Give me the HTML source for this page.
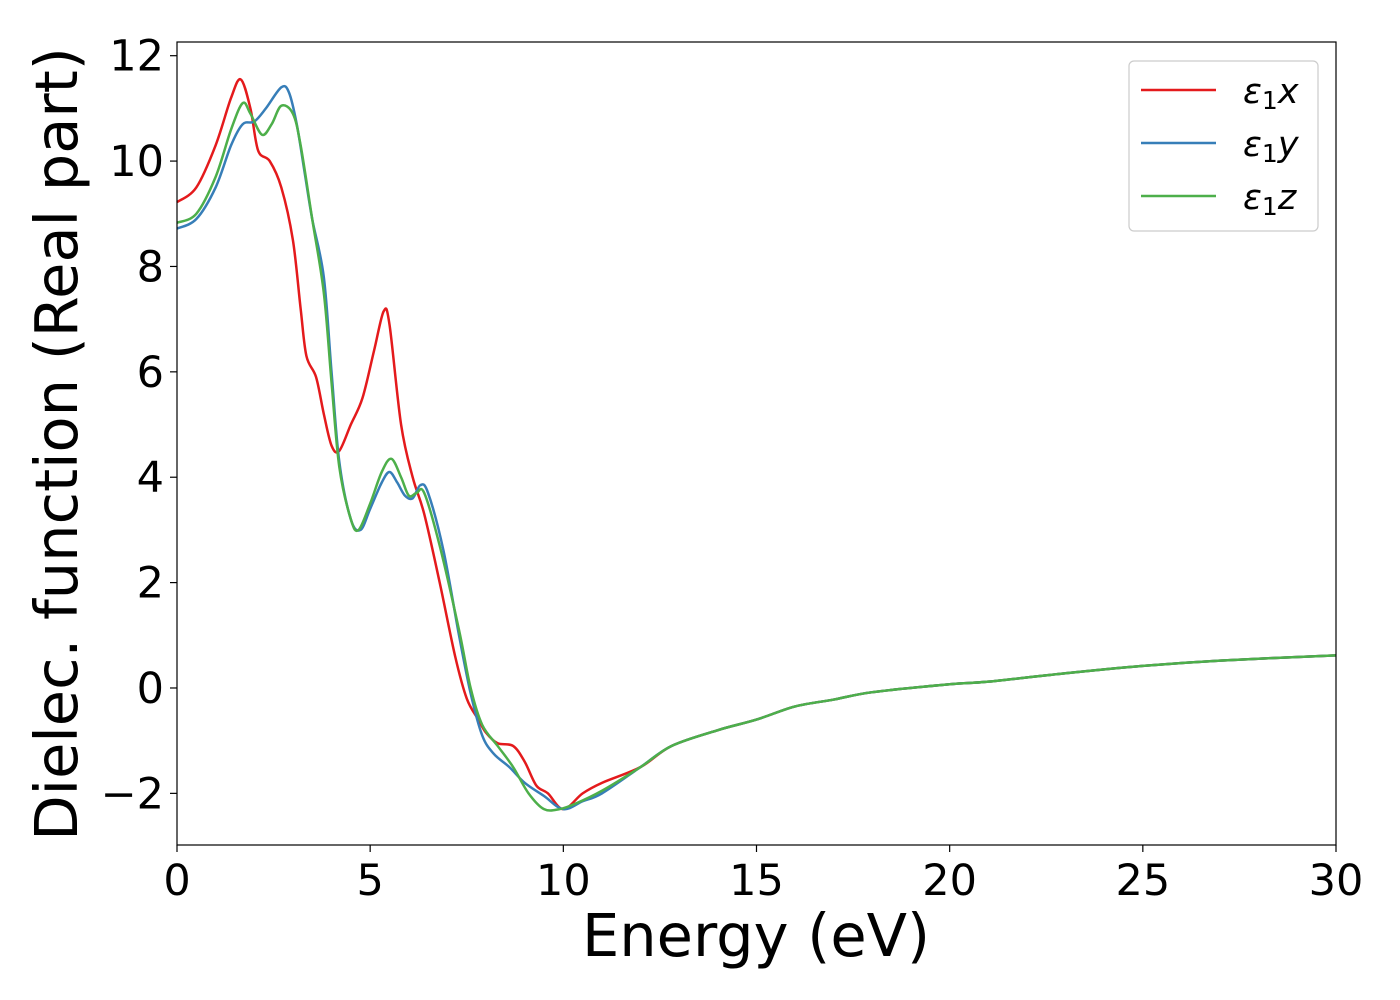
<!DOCTYPE html>
<html><head><meta charset="utf-8"><style>
html,body{margin:0;padding:0;background:#fff;}
svg{display:block;font-family:"DejaVu Sans","Liberation Sans",sans-serif;}
</style></head><body>
<svg id="chart" width="1400" height="1000" viewBox="0 0 1400 1000"></svg>
<script>
const xTicks=[0,5,10,15,20,25,30];
const yTicks=[-2,0,2,4,6,8,10,12];
const yTickLabels=["\u22122","0","2","4","6","8","10","12"];
const seriesNames=["x","y","z"];
const seriesColors=["#e41a1c","#377eb8","#4daf4a"];
const tail=[[12,-1.5],[12.8,-1.1],[14,-0.8],[15,-0.6],[16,-0.35],[17,-0.22],[18,-0.08],[20,0.07],[21,0.12],[23,0.28],[25,0.42],[27,0.52],[30,0.62]];
const seriesX=[[0,9.22],[0.5,9.5],[1,10.3],[1.4,11.2],[1.65,11.55],[1.9,11.0],[2.1,10.2],[2.4,10.0],[2.7,9.5],[3.0,8.5],[3.2,7.2],[3.35,6.3],[3.6,5.9],[3.8,5.2],[4.0,4.6],[4.2,4.5],[4.5,5.0],[4.8,5.5],[5.1,6.4],[5.35,7.15],[5.5,6.9],[5.8,5.0],[6.1,4.0],[6.4,3.3],[6.8,2.0],[7.2,0.6],[7.5,-0.2],[7.8,-0.6],[8.0,-0.85],[8.3,-1.05],[8.7,-1.1],[9.0,-1.4],[9.3,-1.85],[9.6,-2.0],[10.0,-2.3],[10.5,-2.0],[11,-1.8]];
const seriesY=[[0,8.72],[0.5,8.9],[1,9.5],[1.4,10.3],[1.7,10.7],[2,10.75],[2.3,11.0],[2.7,11.4],[2.9,11.3],[3.1,10.7],[3.3,9.8],[3.5,8.9],[3.8,7.8],[4.0,6.0],[4.2,4.3],[4.5,3.2],[4.75,3.0],[5.0,3.4],[5.3,3.9],[5.5,4.1],[5.7,3.9],[5.9,3.65],[6.1,3.6],[6.3,3.85],[6.5,3.7],[6.9,2.6],[7.3,1.0],[7.6,-0.1],[7.9,-0.9],[8.2,-1.25],[8.6,-1.5],[9,-1.8],[9.5,-2.05],[10,-2.3],[10.5,-2.15],[11,-2.0]];
const seriesZ=[[0,8.83],[0.5,9.0],[1,9.7],[1.4,10.6],[1.7,11.1],[1.9,10.9],[2.2,10.5],[2.45,10.7],[2.7,11.05],[3.0,10.9],[3.2,10.3],[3.5,8.9],[3.8,7.5],[4.0,5.8],[4.2,4.2],[4.5,3.2],[4.7,3.0],[5.0,3.5],[5.3,4.1],[5.55,4.35],[5.8,4.0],[6.0,3.65],[6.2,3.7],[6.4,3.7],[6.8,2.7],[7.3,1.1],[7.6,0.0],[7.9,-0.7],[8.3,-1.1],[8.7,-1.5],[9.1,-2.0],[9.5,-2.3],[9.9,-2.3],[10.3,-2.2],[11,-1.95]];

const L=177,R=1336,T=42,B=845,xmin=0,xmax=30,ymin=-2.98,ymax=12.26;
const sx=v=>L+(v-xmin)/(xmax-xmin)*(R-L);
const sy=v=>B-(v-ymin)/(ymax-ymin)*(B-T);
const svg=document.getElementById('chart');
const NS='http://www.w3.org/2000/svg';
function mk(tag,attrs,parent){const e=document.createElementNS(NS,tag);for(const k in attrs)e.setAttribute(k,attrs[k]);(parent||svg).appendChild(e);return e;}
function path(pts){
  const p=pts.map(d=>[sx(d[0]),sy(d[1])]);
  let s='M'+p[0][0]+','+p[0][1];
  for(let i=0;i<p.length-1;i++){
    const p0=p[Math.max(0,i-1)],p1=p[i],p2=p[i+1],p3=p[Math.min(p.length-1,i+2)];
    const c1=[p1[0]+(p2[0]-p0[0])/6,p1[1]+(p2[1]-p0[1])/6];
    const c2=[p2[0]-(p3[0]-p1[0])/6,p2[1]-(p3[1]-p1[1])/6];
    s+='C'+c1+' '+c2+' '+p2;
  }
  return s;
}
const all=[seriesX,seriesY,seriesZ];
all.forEach((d,i)=>{
  const e=mk('path',{d:path(d.concat(tail)),fill:'none',stroke:seriesColors[i],'stroke-width':2.5});
  
  
});
const frame=mk('rect',{x:L,y:T,width:R-L,height:B-T,fill:'none',stroke:'#000','stroke-width':1.2});


xTicks.forEach(v=>{
  const t=mk('line',{x1:sx(v),x2:sx(v),y1:B,y2:B+7,stroke:'#000','stroke-width':1.2});
  
  
  const l=mk('text',{x:sx(v),y:B+50,'text-anchor':'middle','font-size':43});
  l.textContent=v;
  
  
});
yTicks.forEach((v,i)=>{
  const t=mk('line',{x1:L-7,x2:L,y1:sy(v),y2:sy(v),stroke:'#000','stroke-width':1.2});
  
  
  const l=mk('text',{x:L-13,y:sy(v)+15,'text-anchor':'end','font-size':43});
  l.textContent=yTickLabels[i];
  
  
});
const xt=mk('text',{x:756,y:956,'text-anchor':'middle','font-size':59});
xt.textContent='Energy (eV)';


const yt=mk('text',{x:0,y:0,'text-anchor':'middle','font-size':59,transform:'translate(77,444) rotate(-90)'});
yt.textContent='Dielec. function (Real part)';


const lg=mk('g',{});


mk('rect',{x:1129,y:61,width:189,height:170,rx:5,fill:'#fff',stroke:'#ccc','stroke-width':1.2},lg);
seriesNames.forEach((n,i)=>{
  const y=90+i*53;
  const ln=mk('line',{x1:1141,x2:1216,y1:y,y2:y,stroke:seriesColors[i],'stroke-width':2.5},lg);
  
  
  const tx=mk('text',{x:1243,y:y+13,'font-size':35,'font-style':'italic'},lg);
  tx.innerHTML='\u03b5<tspan font-style="normal" font-size="25" dy="6">1</tspan><tspan dy="-6">'+n+'</tspan>';
  
  
});
</script>
</body></html>
